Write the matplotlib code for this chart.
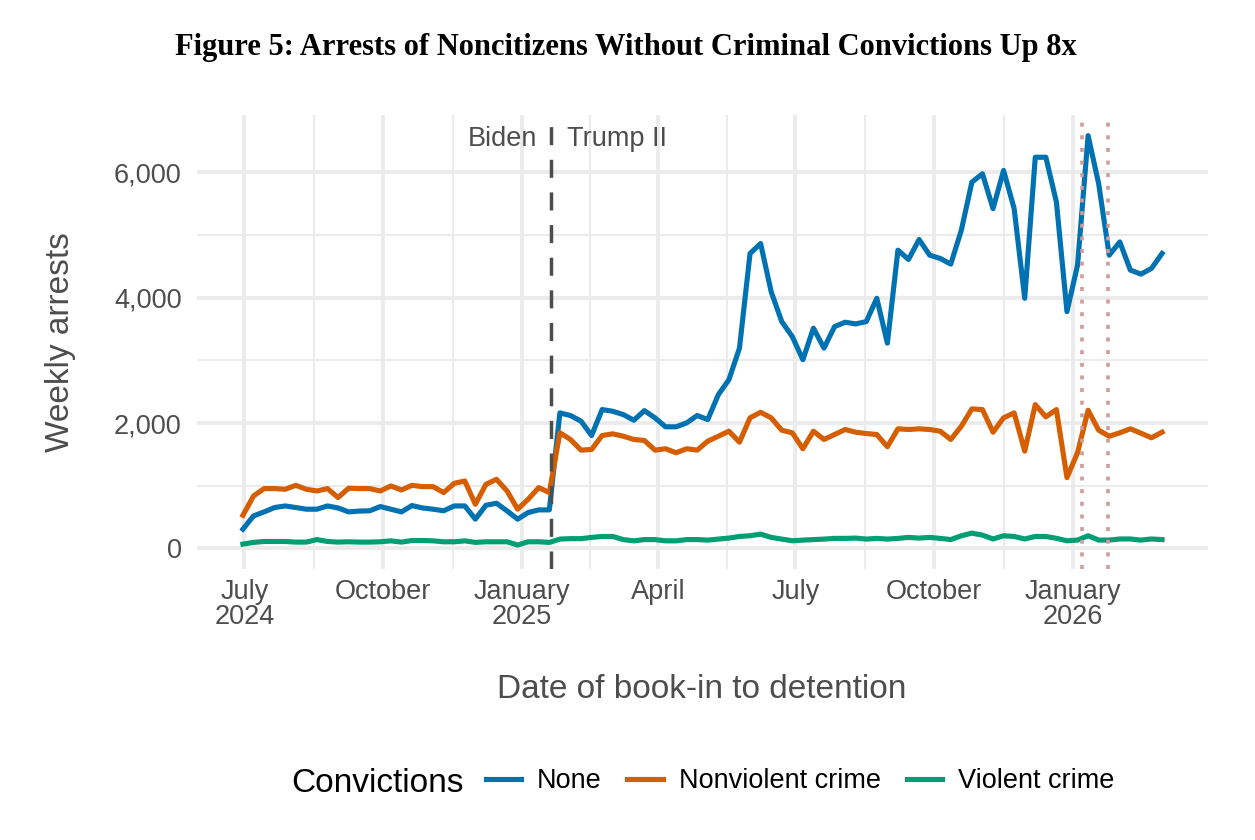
import matplotlib
matplotlib.use('Agg')
import matplotlib.pyplot as plt
import matplotlib.dates as mdates
import numpy as np
import pandas as pd

# Weekly book-ins, 88 weeks from the end of June 2024 to the start of March 2026
weeks = pd.date_range('2024-06-30', periods=88, freq='7D')

none = [307, 518, 582, 652, 677, 652, 625, 625, 677, 645, 582, 595, 600, 667, 625, 582,
        683, 645, 625, 600, 677, 677,
        466, 688, 720, 598, 466, 572, 614, 614,
        2162, 2120, 2030, 1801, 2215, 2188, 2135, 2045, 2199, 2083, 1940, 1940, 2003, 2120,
        2056, 2453, 2692, 3196, 4706, 4865, 4096, 3619, 3380, 3010, 3514, 3196, 3539, 3609,
        3582, 3619, 3991, 3275, 4759, 4611, 4929, 4680,
        4627, 4536, 5077, 5845, 5978, 5422, 6031, 5422, 3991, 6242, 6242, 5527, 3778, 4520,
        6587, 5819, 4679, 4891, 4441, 4377, 4468, 4706]

nonviolent = [529, 836, 954, 954, 943, 1006, 943, 916, 954, 811, 960, 954, 954, 916, 996, 932,
              1006, 985, 985, 890, 1038, 1075,
              704, 1022, 1102, 916, 625, 784, 970, 890,
              1844, 1738, 1568, 1578, 1801, 1828, 1790, 1738, 1722, 1568, 1590, 1526, 1590, 1568,
              1711, 1790, 1870, 1695, 2083, 2172, 2083, 1886, 1844, 1590, 1870, 1738, 1817, 1897,
              1854, 1833, 1817, 1622, 1908, 1897, 1908, 1897,
              1870, 1738, 1949, 2226, 2215, 1854, 2083, 2162, 1552, 2294, 2099, 2215, 1129, 1526,
              2204, 1886, 1790, 1844, 1908, 1838, 1765, 1854]

violent = [68, 95, 110, 110, 110, 100, 100, 140, 110, 100, 105, 100, 100, 105, 120, 100,
           125, 125, 120, 105, 105, 120,
           95, 105, 105, 105, 53, 105, 105, 95,
           148, 155, 155, 175, 190, 190, 140, 120, 140, 140, 120, 120, 140, 140,
           132, 148, 164, 190, 201, 227, 175, 148, 121, 132, 140, 148, 159, 159,
           164, 148, 159, 148, 159, 175, 164, 175,
           159, 140, 201, 243, 211, 150, 201, 190, 150, 190, 190, 160, 121, 132,
           201, 132, 132, 150, 150, 132, 150, 140]

series_labels = ['None', 'Nonviolent crime', 'Violent crime']
series_colors = ['#0072B2', '#D55E00', '#009E73']

tick_dates = pd.to_datetime(['2024-07-01', '2024-10-01', '2025-01-01', '2025-04-01',
                             '2025-07-01', '2025-10-01', '2026-01-01'])
tick_labels = ['July\n2024', 'October', 'January\n2025', 'April', 'July', 'October', 'January\n2026']

inauguration = pd.Timestamp('2025-01-20')
event_dates = pd.to_datetime(['2026-01-07', '2026-01-24'])

plt.rcParams['font.family'] = ['Liberation Sans', 'DejaVu Sans']

W, H = 1255, 840
fig = plt.figure(figsize=(W / 100, H / 100), dpi=100)
ax = fig.add_axes([197 / W, 1 - 569 / H, (1208 - 197) / W, (569 - 115) / H])

# grid like theme_minimal
for s in ax.spines.values():
    s.set_visible(False)
ax.set_axisbelow(True)

for vals, lab, col in zip([none, nonviolent, violent], series_labels, series_colors):
    ax.plot(weeks, vals, color=col, lw=3.7, label=lab, solid_joinstyle='round')

# ggplot style 5% expansion
span = weeks[-1] - weeks[0]
ax.set_xlim(weeks[0] - span * 0.05, weeks[-1] + span * 0.05)
ymax = max(none)
ax.set_ylim(-ymax * 0.05, ymax * 1.05)

ax.set_xticks(tick_dates)
ax.set_xticklabels(tick_labels, linespacing=0.95)
tnum = mdates.date2num(tick_dates)
ax.set_xticks((tnum[:-1] + tnum[1:]) / 2, minor=True)
ax.set_yticks([0, 2000, 4000, 6000])
ax.set_yticks([1000, 3000, 5000], minor=True)
ax.yaxis.set_major_formatter(matplotlib.ticker.FuncFormatter(lambda v, p: f'{v:,.0f}'))

ax.grid(which='major', color='#EBEBEB', lw=2.8)
ax.grid(which='minor', color='#EBEBEB', lw=1.5)
ax.tick_params(which='both', length=0, labelsize=19.5, labelcolor='#4D4D4D')
ax.tick_params(axis='x', pad=7)
ax.tick_params(axis='y', pad=11)

# administration change + January 2026 events
ax.axvline(inauguration, color='#4D4D4D', lw=2.5, dashes=(5.2, 4.2))
for d in event_dates:
    ax.axvline(d, color='#CF9B9B', lw=2.6, dashes=(1.1, 2.4))

ax.annotate('Biden', xy=(inauguration, 0.947), xycoords=('data', 'axes fraction'),
            xytext=(-10, 0), textcoords='offset points', ha='right', va='center',
            fontsize=19.5, color='#4D4D4D')
ax.annotate('Trump II', xy=(inauguration, 0.947), xycoords=('data', 'axes fraction'),
            xytext=(12, 0), textcoords='offset points', ha='left', va='center',
            fontsize=19.5, color='#4D4D4D')

fig.text(626 / W, 1 - 48 / H,
         'Figure 5: Arrests of Noncitizens Without Criminal Convictions Up 8x',
         ha='center', va='center', fontsize=22, fontweight='bold',
         family=['Liberation Serif', 'DejaVu Serif'])
fig.text(60 / W, 1 - 342 / H, 'Weekly arrests', rotation=90, ha='center', va='center',
         fontsize=24, color='#4D4D4D')
fig.text(702 / W, 1 - 690 / H, 'Date of book-in to detention', ha='center', va='center',
         fontsize=24, color='#4D4D4D')

# legend at the bottom, title on the left
fig.text(291 / W, 1 - 783 / H, 'Convictions', ha='left', va='center', fontsize=24, color='black')
handles, labels = ax.get_legend_handles_labels()
fig.legend(handles, labels, loc='center', bbox_to_anchor=(800 / W, 1 - 781 / H), ncol=3,
           frameon=False, fontsize=19.5, handlelength=1.3, handletextpad=0.6,
           columnspacing=0.95)

fig.savefig('out.png', dpi=100)
